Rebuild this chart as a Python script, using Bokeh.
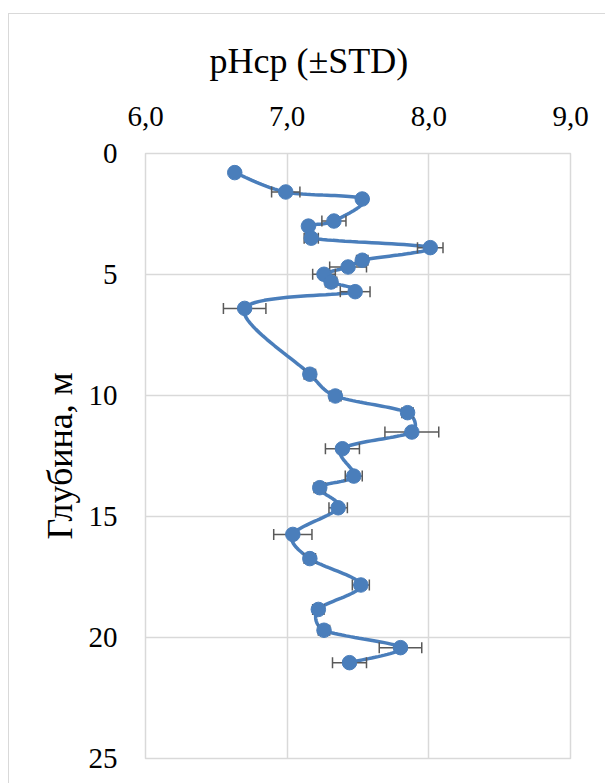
import numpy as np
from bokeh.plotting import figure
from bokeh.models import Range1d, FixedTicker, CustomJSTickFormatter, Title, ColumnDataSource, InlineStyleSheet
from bokeh.embed import file_html
from bokeh.resources import INLINE

# ---- data ----
ph = [6.63, 6.99, 7.53, 7.33, 7.15, 7.17, 8.01, 7.53, 7.43, 7.26, 7.31, 7.48, 6.70,
      7.16, 7.34, 7.85, 7.88, 7.39, 7.47, 7.23, 7.36, 7.04, 7.16, 7.52, 7.22, 7.26,
      7.80, 7.44]
depth = [0.79, 1.59, 1.88, 2.79, 3.00, 3.50, 3.89, 4.41, 4.69, 4.99, 5.31, 5.71, 6.40,
         9.12, 10.02, 10.71, 11.51, 12.20, 13.33, 13.81, 14.64, 15.74, 16.74, 17.83,
         18.84, 19.70, 20.42, 21.04]
std = [0.03, 0.10, 0.03, 0.085, 0.03, 0.05, 0.09, 0.04, 0.13, 0.08, 0.04, 0.105, 0.15,
       0.04, 0.04, 0.04, 0.19, 0.12, 0.06, 0.04, 0.065, 0.135, 0.04, 0.06, 0.04, 0.04,
       0.15, 0.12]
x_ticks = [6, 7, 8, 9]
y_ticks = [0, 5, 10, 15, 20, 25]
x_title = "pHср (±STD)"
y_title = "Глубина, м"

BLUE = "#4a7ebb"
GRID = "#d9d9d9"
FONT = "Liberation Serif"

W, H = 600, 778
FL, FT, FR, FB = 145, 153, 30, 20  # frame borders


def smooth(xs, ys, sx, sy, n=24, clamp=0.4):
    P = np.stack([np.asarray(xs) * sx, np.asarray(ys) * sy], 1)
    out = []

    def limit(h, seg_len):
        L = np.hypot(*h)
        m = clamp * seg_len
        return h * (m / L) if L > m and L > 0 else h

    for i in range(len(P) - 1):
        p0 = P[i - 1] if i > 0 else P[i]
        p1, p2 = P[i], P[i + 1]
        p3 = P[i + 2] if i + 2 < len(P) else P[i + 1]
        d = np.hypot(*(p2 - p1))
        c1 = p1 + limit((p2 - p0) / 6.0, d)
        c2 = p2 - limit((p3 - p1) / 6.0, d)
        t = np.linspace(0, 1, n)[:, None]
        seg = (1 - t) ** 3 * p1 + 3 * (1 - t) ** 2 * t * c1 + 3 * (1 - t) * t ** 2 * c2 + t ** 3 * p2
        out.append(seg if i == 0 else seg[1:])
    S = np.vstack(out)
    return S[:, 0] / sx, S[:, 1] / sy


p = figure(width=W, height=H, output_backend="svg", toolbar_location=None,
           x_range=Range1d(6, 9), y_range=Range1d(25, 0), x_axis_location="above",
           min_border_left=FL, min_border_top=FT, min_border_right=FR, min_border_bottom=FB)
p.stylesheets = [InlineStyleSheet(css=(
    ":host::after { content: ''; position: absolute; left: 8px; top: 13px; "
    "width: 700px; height: 900px; border: 1px solid #d9d9d9; pointer-events: none; }"))]

p.outline_line_color = GRID
p.outline_line_width = 1.5
p.xgrid.ticker = FixedTicker(ticks=x_ticks)
p.ygrid.ticker = FixedTicker(ticks=y_ticks)
for g in (p.xgrid, p.ygrid):
    g.grid_line_color = GRID
    g.grid_line_width = 1.5

for ax in (p.xaxis, p.yaxis):
    ax.axis_line_color = None
    ax.major_tick_line_color = None
    ax.minor_tick_line_color = None
    ax.major_tick_out = 0
    ax.major_label_text_font = FONT
    ax.major_label_text_font_size = "29px"
    ax.major_label_text_color = "#000000"
    ax.major_label_standoff = 28

p.xaxis.ticker = FixedTicker(ticks=x_ticks)
p.yaxis.ticker = FixedTicker(ticks=y_ticks)
p.xaxis.formatter = CustomJSTickFormatter(code="return tick.toFixed(1).replace('.', ',');")
p.yaxis.formatter = CustomJSTickFormatter(code="return tick.toFixed(0);")

p.yaxis.axis_label = y_title
p.yaxis.axis_label_text_font = FONT
p.yaxis.axis_label_text_font_size = "36px"
p.yaxis.axis_label_text_font_style = "normal"
p.yaxis.axis_label_text_color = "#000000"
p.yaxis.axis_label_standoff = 6

p.add_layout(Title(text=x_title, align="left", offset=64, text_font=FONT,
                   text_font_size="36px", text_font_style="normal",
                   text_color="#000000", standoff=46), "above")

# smoothed line
sx, sy = 141.67, 24.2
lx, ly = smooth(ph, depth, sx, sy)
p.line(lx, ly, line_color=BLUE, line_width=3.5)

# error bars
lo = [a - s for a, s in zip(ph, std)]
hi = [a + s for a, s in zip(ph, std)]
src = ColumnDataSource(dict(ph=ph, depth=depth, lo=lo, hi=hi))
p.segment(x0="lo", y0="depth", x1="hi", y1="depth", source=src, line_color="#595959", line_width=1.5)
p.scatter(x="lo", y="depth", source=src, marker="dash", angle=np.pi / 2, size=11,
          line_color="#595959", line_width=1.5)
p.scatter(x="hi", y="depth", source=src, marker="dash", angle=np.pi / 2, size=11,
          line_color="#595959", line_width=1.5)

# markers
p.scatter(x="ph", y="depth", source=src, size=14.5, fill_color=BLUE, line_color=BLUE)

open("out.html", "w").write(file_html(p, INLINE))
